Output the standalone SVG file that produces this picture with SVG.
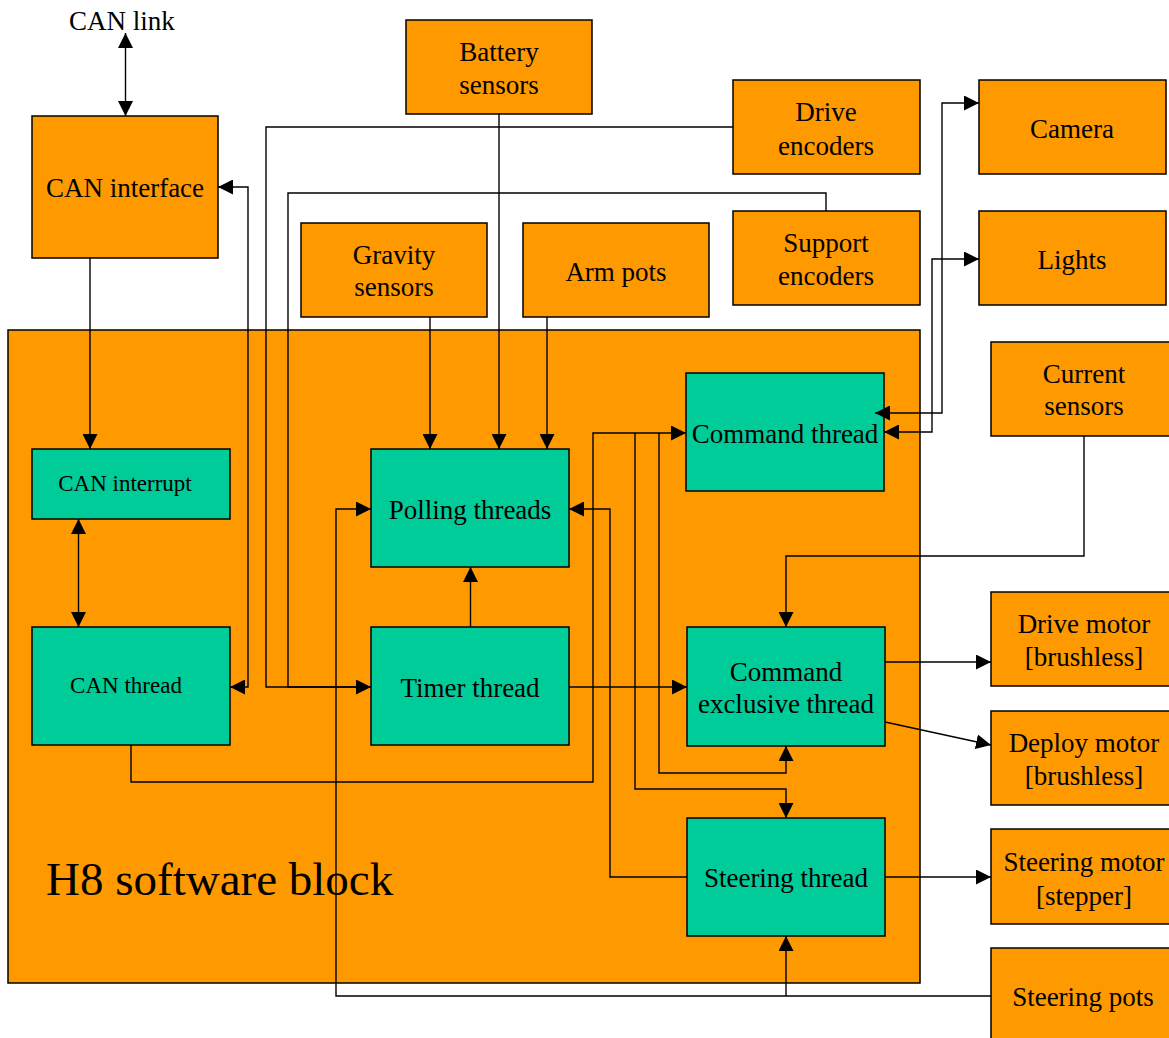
<svg xmlns="http://www.w3.org/2000/svg" width="1169" height="1038" viewBox="0 0 1169 1038">
<style>
.o{fill:#FF9900;stroke:#000;stroke-width:1.5}
.g{fill:#00CC99;stroke:#000;stroke-width:1.5}
text{font-family:"Liberation Serif","Times New Roman",serif;font-size:27px;fill:#000;text-anchor:middle}
.s{font-size:23px}
.big{font-size:47px;text-anchor:start}
.c path{fill:none;stroke:#000;stroke-width:1.4}
</style>
<defs>
<marker id="a" markerUnits="userSpaceOnUse" markerWidth="15" markerHeight="15" viewBox="0 0 15 15" refX="15" refY="7.5" orient="auto-start-reverse">
<path d="M0,0 L15,7.5 L0,15 z" fill="#000"/>
</marker>
</defs>
<rect width="1169" height="1038" fill="#fff"/>
<g id="h8"><rect class="o" x="8" y="330" width="912" height="653"/><text class="big" x="46" y="895">H8 software block</text></g>
<text x="122" y="30">CAN link</text>
<g id="can-interface"><rect class="o" x="32" y="116" width="186" height="142"/><text x="125" y="197">CAN interface</text></g>
<g id="battery"><rect class="o" x="406" y="20" width="186" height="94"/><text x="499" y="61">Battery</text><text x="499" y="94">sensors</text></g>
<g id="drive-enc"><rect class="o" x="733" y="80" width="187" height="94"/><text x="826" y="121">Drive</text><text x="826" y="155">encoders</text></g>
<g id="support-enc"><rect class="o" x="733" y="211" width="187" height="94"/><text x="826" y="252">Support</text><text x="826" y="285">encoders</text></g>
<g id="gravity"><rect class="o" x="301" y="223" width="186" height="94"/><text x="394" y="264">Gravity</text><text x="394" y="296">sensors</text></g>
<g id="arm-pots"><rect class="o" x="523" y="223" width="186" height="94"/><text x="616" y="281">Arm pots</text></g>
<g id="camera"><rect class="o" x="979" y="80" width="187" height="94"/><text x="1072" y="138">Camera</text></g>
<g id="lights"><rect class="o" x="979" y="211" width="187" height="94"/><text x="1072" y="269">Lights</text></g>
<g id="current"><rect class="o" x="991" y="342" width="186" height="94"/><text x="1084" y="383">Current</text><text x="1084" y="415">sensors</text></g>
<g id="can-interrupt"><rect class="g" x="32" y="449" width="198" height="70"/><text class="s" x="125" y="491">CAN interrupt</text></g>
<g id="can-thread"><rect class="g" x="32" y="627" width="198" height="118"/><text class="s" x="126" y="693">CAN thread</text></g>
<g id="polling"><rect class="g" x="371" y="449" width="198" height="118"/><text x="470" y="519">Polling threads</text></g>
<g id="timer"><rect class="g" x="371" y="627" width="198" height="118"/><text x="470" y="697">Timer thread</text></g>
<g id="command"><rect class="g" x="686" y="373" width="198" height="118"/><text x="785" y="443">Command thread</text></g>
<g id="cmd-excl"><rect class="g" x="687" y="627" width="198" height="119"/><text x="786" y="681">Command</text><text x="786" y="713">exclusive thread</text></g>
<g id="steering"><rect class="g" x="687" y="818" width="198" height="118"/><text x="786" y="887">Steering thread</text></g>
<g id="drive-motor"><rect class="o" x="991" y="592" width="186" height="94"/><text x="1084" y="633">Drive motor</text><text x="1084" y="666">[brushless]</text></g>
<g id="deploy-motor"><rect class="o" x="991" y="711" width="186" height="94"/><text x="1084" y="752">Deploy motor</text><text x="1084" y="785">[brushless]</text></g>
<g id="steering-motor"><rect class="o" x="991" y="829" width="186" height="95"/><text x="1084" y="871">Steering motor</text><text x="1084" y="905">[stepper]</text></g>
<g id="steering-pots"><rect class="o" x="991" y="948" width="186" height="100"/><text x="1083" y="1006">Steering pots</text></g>
<g id="connectors" class="c">
<path d="M125.5,33 V116" marker-start="url(#a)" marker-end="url(#a)"/>
<path d="M90,258 V449" marker-end="url(#a)"/>
<path d="M78.5,519 V627" marker-start="url(#a)" marker-end="url(#a)"/>
<path d="M218,187 H248 V687 H230" marker-start="url(#a)" marker-end="url(#a)"/>
<path d="M733,127 H266 V687 H371" marker-end="url(#a)"/>
<path d="M826,211 V193 H288 V687 H371"/>
<path d="M499,114 V449" marker-end="url(#a)"/>
<path d="M430,317 V449" marker-end="url(#a)"/>
<path d="M547,317 V449" marker-end="url(#a)"/>
<path d="M470.5,627 V567" marker-end="url(#a)"/>
<path d="M569,687 H687" marker-end="url(#a)"/>
<path d="M991,996 H336 V509 H371" marker-end="url(#a)"/>
<path d="M786,996 V936" marker-end="url(#a)"/>
<path d="M885,877 H991" marker-end="url(#a)"/>
<path d="M885,662 H991" marker-end="url(#a)"/>
<path d="M885,722 L991,745" marker-end="url(#a)"/>
<path d="M1084,436 V556 H786 V627" marker-end="url(#a)"/>
<path d="M875,413 H942 V103 H979" marker-start="url(#a)" marker-end="url(#a)"/>
<path d="M884,432 H932 V259 H979" marker-start="url(#a)" marker-end="url(#a)"/>
<path d="M131,745 V782 H593 V433 H686" marker-end="url(#a)"/>
<path d="M635,433 V789 H786 V818" marker-end="url(#a)"/>
<path d="M659,433 V773 H786 V746" marker-end="url(#a)"/>
<path d="M687,877 H610 V509 H569" marker-end="url(#a)"/>
</g>
</svg>
